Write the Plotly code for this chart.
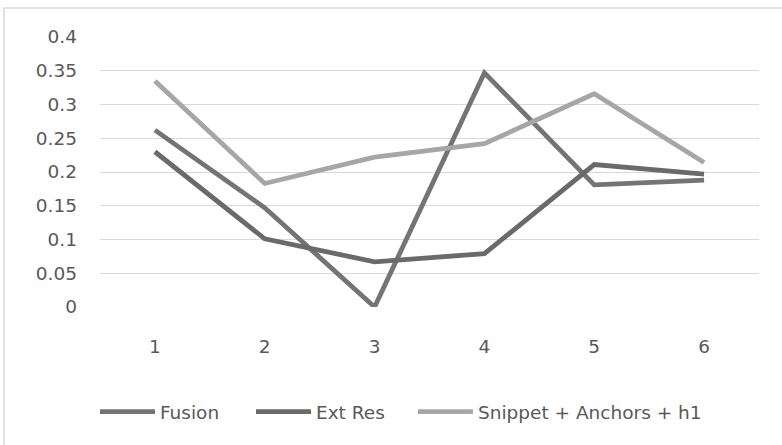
import plotly.graph_objects as go

categories = ["1", "2", "3", "4", "5", "6"]
fusion = [0.262, 0.147, 0.0, 0.347, 0.181, 0.188]
ext_res = [0.230, 0.101, 0.067, 0.079, 0.211, 0.197]
snippet = [0.335, 0.183, 0.222, 0.242, 0.316, 0.214]
y_ticks = [0, 0.05, 0.1, 0.15, 0.2, 0.25, 0.3, 0.35, 0.4]
y_tick_labels = ["0", "0.05", "0.1", "0.15", "0.2", "0.25", "0.3", "0.35", "0.4"]

FONT = "DejaVu Sans"
TXT = "#595959"
FS = 18.5

fig = go.Figure()
fig.add_trace(go.Scatter(x=categories, y=fusion, name="Fusion", mode="lines",
                         line=dict(color="#747474", width=4.8), legend="legend"))
fig.add_trace(go.Scatter(x=categories, y=ext_res, name="Ext Res", mode="lines",
                         line=dict(color="#6a6a6a", width=4.8), legend="legend2"))
fig.add_trace(go.Scatter(x=categories, y=snippet, name="Snippet + Anchors + h1", mode="lines",
                         line=dict(color="#a6a6a6", width=4.8), legend="legend3"))


def leg(xpos):
    return dict(orientation="h", x=xpos, xanchor="left", y=-0.389, yanchor="middle",
                font=dict(family=FONT, size=FS, color=TXT), itemwidth=55,
                bgcolor="rgba(0,0,0,0)")


fig.update_layout(
    width=782, height=445,
    margin=dict(l=100, r=23, t=37, b=138, autoexpand=False),
    paper_bgcolor="white", plot_bgcolor="white",
    font=dict(family=FONT, size=FS, color=TXT),
    showlegend=True,
    legend=leg(-0.0076),
    legend2=leg(0.2291),
    legend3=leg(0.4749),
    xaxis=dict(type="category", range=[-0.5, 5.5], showgrid=False, zeroline=False,
               showline=False, ticks="", ticklabelstandoff=26,
               tickfont=dict(size=FS, color=TXT)),
    yaxis=dict(range=[0, 0.4], tickvals=y_ticks, ticktext=y_tick_labels,
               showgrid=True, gridcolor="#d9d9d9", gridwidth=1,
               zeroline=False, showline=False, ticks="", ticklabelstandoff=22,
               tickfont=dict(size=FS, color=TXT)),
    shapes=[dict(type="rect", xref="paper", yref="paper",
                 x0=-0.1457, x1=1.2, y0=-0.8, y1=1.107,
                 line=dict(color="#d9d9d9", width=1.5), fillcolor="rgba(0,0,0,0)", layer="below")],
)

fig.write_html("out.html", config={"displayModeBar": False},
               post_script="document.body.style.margin='0px';")
